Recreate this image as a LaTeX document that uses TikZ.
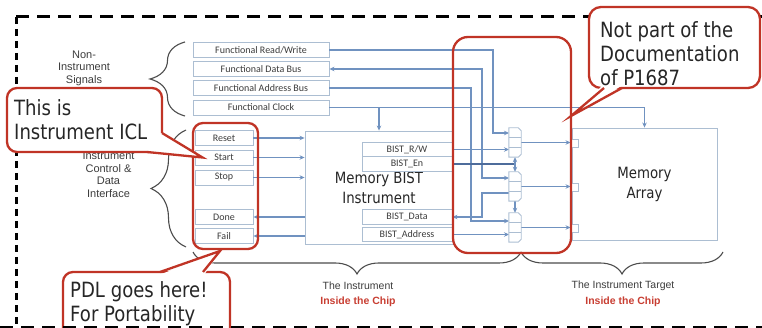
\documentclass[tikz,border=0pt]{standalone}
\usepackage{fontspec}
\setmainfont{Liberation Sans}
\newfontfamily\calfont{Carlito}
\newfontfamily\talkfont[FakeStretch=0.86]{DejaVu Sans}
\usetikzlibrary{arrows.meta,calc,decorations.pathreplacing}

\definecolor{wireblue}{RGB}{112,146,192}
\definecolor{selblue}{RGB}{78,108,155}
\definecolor{boxgrey}{RGB}{172,190,210}
\definecolor{callred}{RGB}{192,52,38}
\definecolor{chipred}{RGB}{200,62,50}
\definecolor{labgrey}{RGB}{60,60,60}

\tikzset{
  >={Stealth[length=5pt,width=4.5pt]},
  wire/.style={draw=wireblue, line width=1.2pt},
  selwire/.style={draw=selblue, line width=1.6pt},
  sigbox/.style={draw=boxgrey, line width=0.9pt, fill=white, inner sep=0pt,
    minimum height=15pt, text=labgrey, font=\calfont\fontsize{10}{12}\selectfont},
  funcbox/.style={sigbox, minimum width=136pt},
  ctlbox/.style={sigbox, minimum width=58pt},
  bistbox/.style={sigbox, minimum width=90pt, minimum height=14.5pt},
  block/.style={draw=boxgrey, line width=0.9pt, fill=white, inner sep=0pt, align=center,
    text=black!85, font=\talkfont\fontsize{15.5}{20}\selectfont},
  muxbox/.style={fill=white, inner sep=0pt, minimum width=12pt, minimum height=29pt},
  muxline/.style={draw=boxgrey, line width=0.9pt},
  port/.style={draw=boxgrey, line width=0.9pt, fill=white, inner sep=0pt,
    minimum width=7pt, minimum height=8pt},
  sidelabel/.style={align=center, text=labgrey, font=\fontsize{11}{12.5}\selectfont},
  chiplabel/.style={text=chipred, font=\bfseries\fontsize{10.5}{12}\selectfont},
  brc/.style={draw=black!70, line width=1.1pt, decorate},
  redframe/.style={draw=callred, line width=2.3pt, rounded corners=10pt},
  bubble/.style={redframe, fill=white, inner sep=0pt},
  pointer/.style={draw=callred, line width=2.3pt},
  talk/.style={anchor=base west, align=left, inner sep=0pt, text=black!85,
    font=\talkfont\fontsize{21}{24}\selectfont},
}

\begin{document}
\begin{tikzpicture}[x=1pt,y=-1pt]
\useasboundingbox (0,0) rectangle (762,328);
\clip (0,0) rectangle (762,328);

% chip boundary
\draw[line width=3pt, dash pattern=on 13pt off 8pt] (16,17) -- (780,17);
\draw[line width=3pt, dash pattern=on 7pt off 5pt] (16,17) -- (16,340);

% functional signals
\node[funcbox] (frw) at (261,50) {Functional Read/Write};
\node[funcbox] (fdata) at (261,69) {Functional Data Bus};
\node[funcbox] (faddr) at (261,88) {Functional Address Bus};
\node[funcbox] (fclk) at (261,107.5) {Functional Clock};

% instrument interface
\foreach \n/\t/\y in {reset/Reset/138, start/Start/157.5, stop/Stop/177.5, done/Done/217, fail/Fail/236}
  \node[ctlbox] (\n) at (224,\y) {\t};

% the instrument
\node[block, minimum width=148pt, minimum height=113pt] (bist) at (379,187.5) {Memory BIST\\Instrument};
\foreach \n/\t/\y in {brw/{BIST\_R/W}/149.5, ben/{BIST\_En}/164, bdata/{BIST\_Data}/217, baddr/{BIST\_Address}/234.5}
  \node[bistbox] (\n) at (407,\y) {\t};

% the target
\node[block, minimum width=145pt, minimum height=112pt] (mem) at (644.5,184) {Memory\\Array};
\foreach \i/\y in {1/143, 2/187, 3/228}
  \node[port] (p\i) at (574.5,\y) {};

% muxes
\foreach \i/\y in {1/142.5, 2/186.5, 3/227.5}
  \node[muxbox] (mux\i) at (515,\y) {};
\coordinate (m1a) at (509,133);
\coordinate (m1b) at (509,149.5);
\coordinate (m2a) at (509,178);
\coordinate (m2b) at (509,193);
\coordinate (m3a) at (509,221);
\coordinate (m3b) at (509,234.5);

% functional wires
\draw[wire,->] (frw.east) -| (493,133) -- (m1a);
\draw[wire,<->] (fdata.east) -| (482,178) -- (m2a);
\draw[wire,->] (faddr.east) -| (471,221) -- (m3a);
\draw[wire,->] (fclk.east) -| (mem.north);
\draw[wire,->] (fclk.east -| bist.north) -- (bist.north);

% interface wires
\foreach \n in {reset,start,stop}
  \draw[wire,->] (\n.east) -- (\n.east -| bist.west);
\foreach \n in {done,fail}
  \draw[wire,<-] (\n.east) -- (\n.east -| bist.west);

% bist to muxes
\draw[wire,->] (brw.east) -- (m1b);
\draw[selwire] (ben.east) -- (ben.east -| mux1.south);
\draw[wire,<->] (mux1.south) -- (mux2.north);
\draw[wire,->] (mux2.south) -- (mux3.north);
\draw[wire,->] (m2b) -- (482,193) |- (bdata.east);
\draw[wire,->] (baddr.east) -- (m3b);
\foreach \i in {1,2,3}
  \draw[wire,->] (mux\i.east) -- (mux\i.east -| p\i.west);

% mux outlines
\foreach \i in {1,2,3} {
  \draw[muxline] (mux\i.north west) -- ([xshift=-3pt]mux\i.north east) -- ([yshift=-3pt]mux\i.north east)
    -- ([yshift=3pt]mux\i.south east) -- ([xshift=-3pt]mux\i.south east) -- (mux\i.south west) -- cycle;
  \draw[muxline] ($(mux\i.north west)!1/3!(mux\i.south west)$) -- ($(mux\i.north east)!1/3!(mux\i.south east)$)
    ($(mux\i.north west)!2/3!(mux\i.south west)$) -- ($(mux\i.north east)!2/3!(mux\i.south east)$);
}

% braces and labels
\draw[brc, decoration={brace, amplitude=35pt}] (185,116) -- (185,42);
\draw[brc, decoration={brace, amplitude=35pt}] (186,247) -- (186,130);
\draw[brc, decoration={brace, amplitude=22pt}] (521,252) -- (193,252);
\draw[brc, decoration={brace, amplitude=22pt}] (723,252) -- (521,252);
\node[sidelabel] (nonsig) at (84,68) {Non-\\Instrument\\Signals};
\node[sidelabel] (ctlif) at (108.5,175) {Instrument\\Control \&\\Data\\Interface};
\node[sidelabel, font=\fontsize{10.5}{12}\selectfont] (instlab) at (358,286) {The Instrument};
\node[chiplabel] (instchip) at (358,302) {Inside the Chip};
\node[sidelabel, font=\fontsize{10.5}{12}\selectfont] (tgtlab) at (623,286) {The Instrument Target};
\node[chiplabel] (tgtchip) at (623,302) {Inside the Chip};

% red frames
\draw[redframe] (193,123) rectangle (258,249);
\draw[redframe, rounded corners=15pt] (453,37) rectangle (571,253);

% callouts
\coordinate (icltip) at ([xshift=8pt]start.west);
\coordinate (doctip) at (571,116);
\coordinate (pdltip) at (220,251);

\node[bubble, minimum width=155pt, minimum height=64pt] (iclbox) at (84.5,120) {};
\fill[white] (162,133) -- (icltip) -- (147,152) -- (150,136) -- cycle;
\draw[pointer] (162,133) -- (icltip) -- (147,152);
\node[talk] (icltext) at (14,139.5) {This is\\Instrument ICL};

\node[bubble, minimum width=171pt, minimum height=81pt, rounded corners=12pt] (docbox) at (674.5,47.5) {};
\fill[white] (603,85) -- (doctip) -- (623,85) -- cycle;
\draw[pointer] (604,88) -- (doctip) -- (622,88);
\node[talk] (doctext) at (600,85.5) {Not part of the\\Documentation\\of P1687};

\node[bubble, minimum width=167pt, minimum height=72pt] (pdlbox) at (146.5,308) {};
\fill[white] (159,275) -- (pdltip) -- (204,275) -- cycle;
\draw[pointer] (160,272) -- (pdltip) -- (203,272);
\node[talk] (pdltext) at (70,321) {PDL goes here!\\For Portability};

% bottom edge of the boundary
\draw[line width=3pt, dash pattern=on 13pt off 8pt] (0,327) -- (780,327);
\end{tikzpicture}
\end{document}
